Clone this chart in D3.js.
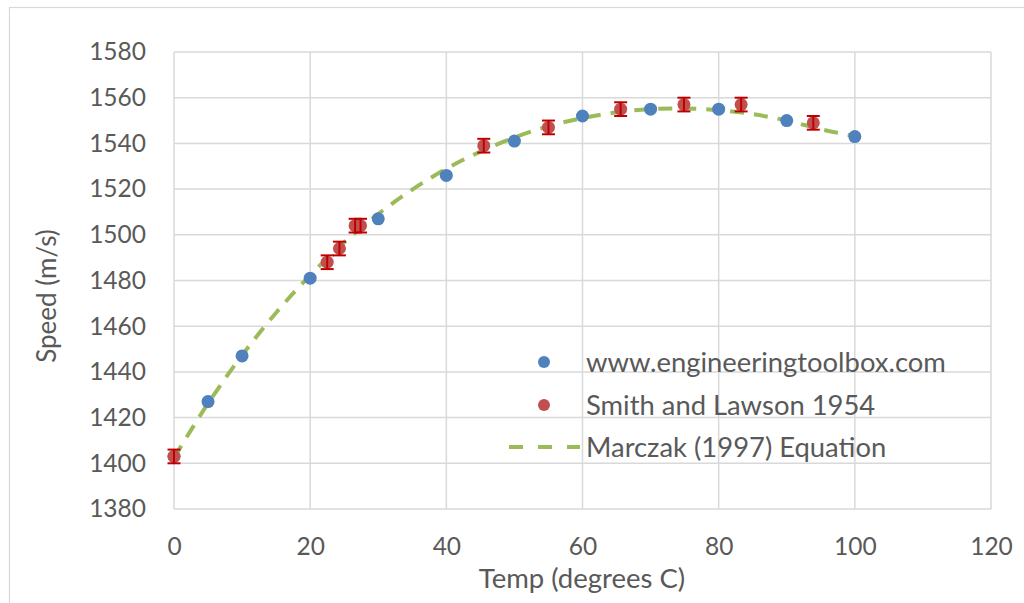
<!DOCTYPE html>
<html><head><meta charset="utf-8">
<script src="https://cdn.jsdelivr.net/npm/d3@7"></script>
<style>body{margin:0;background:#fff}svg{display:block}</style>
</head><body>
<svg id="c" width="1024" height="603"></svg>
<script>
// Data
const toolboxTemp = [0, 5, 10, 20, 30, 40, 50, 60, 70, 80, 90, 100];
const toolboxSpeed = [1403, 1427, 1447, 1481, 1507, 1526, 1541, 1552, 1555, 1555, 1550, 1543];

const smithTemp = [0, 22.5, 24.3, 26.6, 27.4, 45.5, 55.0, 65.6, 74.9, 83.3, 93.9];
const smithSpeed = [1403, 1488, 1494, 1504, 1504, 1539, 1547, 1555, 1557, 1557, 1549];
const smithErr = [3, 3, 3, 3, 3, 3, 3, 3, 3, 3, 3];

const marczakTemp = [0, 5, 10, 15, 20, 25, 30, 35, 40, 45, 50, 55, 60, 65, 70, 75, 80, 85, 90, 95, 100];
const marczakSpeed = [1402.4, 1426.2, 1447.3, 1465.9, 1482.3, 1496.7, 1509.1, 1519.8, 1528.9, 1536.4, 1542.6, 1547.5, 1551.1, 1553.6, 1555.0, 1555.3, 1554.6, 1552.8, 1550.0, 1546.2, 1543.2];

const xTicks = [0, 20, 40, 60, 80, 100, 120];
const yTicks = [1380, 1400, 1420, 1440, 1460, 1480, 1500, 1520, 1540, 1560, 1580];

const seriesNames = ["www.engineeringtoolbox.com", "Smith and Lawson 1954", "Marczak (1997) Equation"];

const svg = d3.select("#c");
const font = "Lato, 'Open Sans', sans-serif";
const L = 174, R = 991, T = 52, B = 509;
const x = d3.scaleLinear().domain([0, 120]).range([L, R]);
const y = d3.scaleLinear().domain([1380, 1580]).range([B, T]);

// outer chart border
svg.append("rect").attr("x", 9.5).attr("y", 7.5).attr("width", 1030).attr("height", 610)
  .attr("fill", "none").attr("stroke", "#d9d9d9").attr("stroke-width", 1.2);

// gridlines
const grid = svg.append("g").attr("stroke", "#d9d9d9").attr("stroke-width", 1.5);
yTicks.forEach(v => grid.append("line").attr("x1", L).attr("x2", R).attr("y1", y(v)).attr("y2", y(v)));
xTicks.forEach(v => grid.append("line").attr("y1", T).attr("y2", B).attr("x1", x(v)).attr("x2", x(v)));

// axes via d3
const xAxis = svg.append("g").attr("transform", `translate(0,${B})`)
  .call(d3.axisBottom(x).tickValues(xTicks).tickSize(0).tickPadding(29).tickFormat(d3.format("d")));
const yAxis = svg.append("g").attr("transform", `translate(${L},0)`)
  .call(d3.axisLeft(y).tickValues(yTicks).tickSize(0).tickPadding(28).tickFormat(d3.format("d")));
[xAxis, yAxis].forEach(a => {
  a.select(".domain").remove();
  a.selectAll("text").attr("font-family", font).attr("font-size", 24.5).attr("fill", "#595959");
});

// axis titles
svg.append("text").attr("x", 582).attr("y", 588).attr("text-anchor", "middle")
  .attr("font-family", font).attr("font-size", 27.5).attr("fill", "#595959").text("Temp (degrees C)");
svg.append("text").attr("transform", "translate(56,296) rotate(-90)").attr("text-anchor", "middle")
  .attr("font-family", font).attr("font-size", 26).attr("fill", "#595959").text("Speed (m/s)");

// Marczak curve
const line = d3.line().x(d => x(d[0])).y(d => y(d[1])).curve(d3.curveMonotoneX);
svg.append("path").datum(marczakTemp.map((t, i) => [t, marczakSpeed[i]]))
  .attr("d", line).attr("fill", "none").attr("stroke", "#9bbb59").attr("stroke-width", 4)
  .attr("stroke-dasharray", "14,10");

// toolbox points
svg.append("g").selectAll("circle").data(toolboxTemp.map((t, i) => [t, toolboxSpeed[i]]))
  .join("circle").attr("cx", d => x(d[0])).attr("cy", d => y(d[1])).attr("r", 6.5)
  .attr("fill", "#4f81bd");

// Smith points with error bars
const sm = smithTemp.map((t, i) => [t, smithSpeed[i], smithErr[i]]);
svg.append("g").selectAll("circle").data(sm)
  .join("circle").attr("cx", d => x(d[0])).attr("cy", d => y(d[1])).attr("r", 6.5)
  .attr("fill", "#c0504d");
const eb = svg.append("g").attr("stroke", "#c00000").attr("stroke-width", 2);
sm.forEach(d => {
  const cx = x(d[0]), y1 = y(d[1] + d[2]), y2 = y(d[1] - d[2]);
  eb.append("line").attr("x1", cx).attr("x2", cx).attr("y1", y1).attr("y2", y2);
  eb.append("line").attr("x1", cx - 6.5).attr("x2", cx + 6.5).attr("y1", y1).attr("y2", y1);
  eb.append("line").attr("x1", cx - 6.5).attr("x2", cx + 6.5).attr("y1", y2).attr("y2", y2);
});

// legend
const lg = svg.append("g");
const ly = [362, 405, 447];
lg.append("circle").attr("cx", 544).attr("cy", ly[0]).attr("r", 6).attr("fill", "#4f81bd");
lg.append("circle").attr("cx", 544).attr("cy", ly[1]).attr("r", 6).attr("fill", "#c0504d");
lg.append("line").attr("x1", 509).attr("x2", 580).attr("y1", ly[2]).attr("y2", ly[2])
  .attr("stroke", "#9bbb59").attr("stroke-width", 4).attr("stroke-dasharray", "14,15");
seriesNames.forEach((n, i) => {
  lg.append("text").attr("x", 586).attr("y", ly[i]).attr("dy", "0.35em")
    .attr("font-family", font).attr("font-size", 27.4).attr("fill", "#595959").text(n);
});
</script>
</body></html>
